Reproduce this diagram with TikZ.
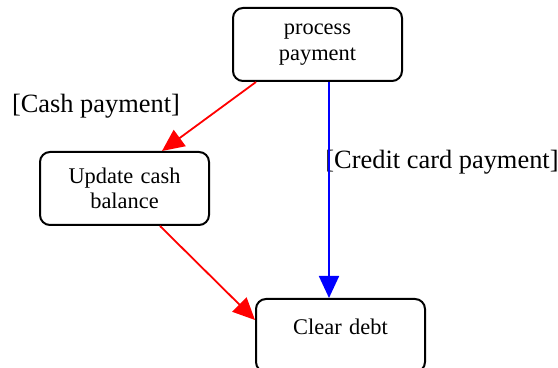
\documentclass[tikz,border=0pt]{standalone}
\usepackage{fontspec}
\setmainfont{Liberation Serif}
\usetikzlibrary{arrows.meta}
\tikzstyle{block} = [rectangle, draw, line width=1pt, inner xsep=2pt,
    text width=80.5pt, align=center, rounded corners=5pt, minimum height=36.5pt,
    font=\fontsize{11.2}{12.8}\selectfont]
\tikzstyle{guard} = [font=\fontsize{13.2}{15}\selectfont, inner sep=0pt]
\tikzstyle{line} = [draw, line width=0.9pt, -{Triangle[length=11pt,width=10pt]}]

\begin{document}
\begin{tikzpicture}[x=0.5pt,y=-0.5pt]
                \useasboundingbox (0,0) rectangle (558,368);
                \node [block] at (317.5,44.5) (pay) {process\\payment};
                \node [block] at (124.5,188.5) (cash) {Update cash\\balance};
                \node [block, anchor=north, text height=17.5pt, text depth=18.5pt,
                    inner ysep=0pt] at (340.5,298) (debt) {Clear debt};
                \node [guard, anchor=base] at (96,113) (cashlbl) {[Cash payment]};
                \node [guard, anchor=base] at (442,169) (cardlbl) {[Credit card payment]};
                \path [line, red] ([xshift=12pt]pay.south west) -- ([xshift=-24pt]cash.north east);
                \path [line, red] ([xshift=-25pt]cash.south east) -- ([yshift=-11pt]debt.north west);
                \path [line, blue] ([xshift=5.75pt]pay.south) -- ([xshift=-5.75pt]debt.north);
            \end{tikzpicture}
\end{document}
